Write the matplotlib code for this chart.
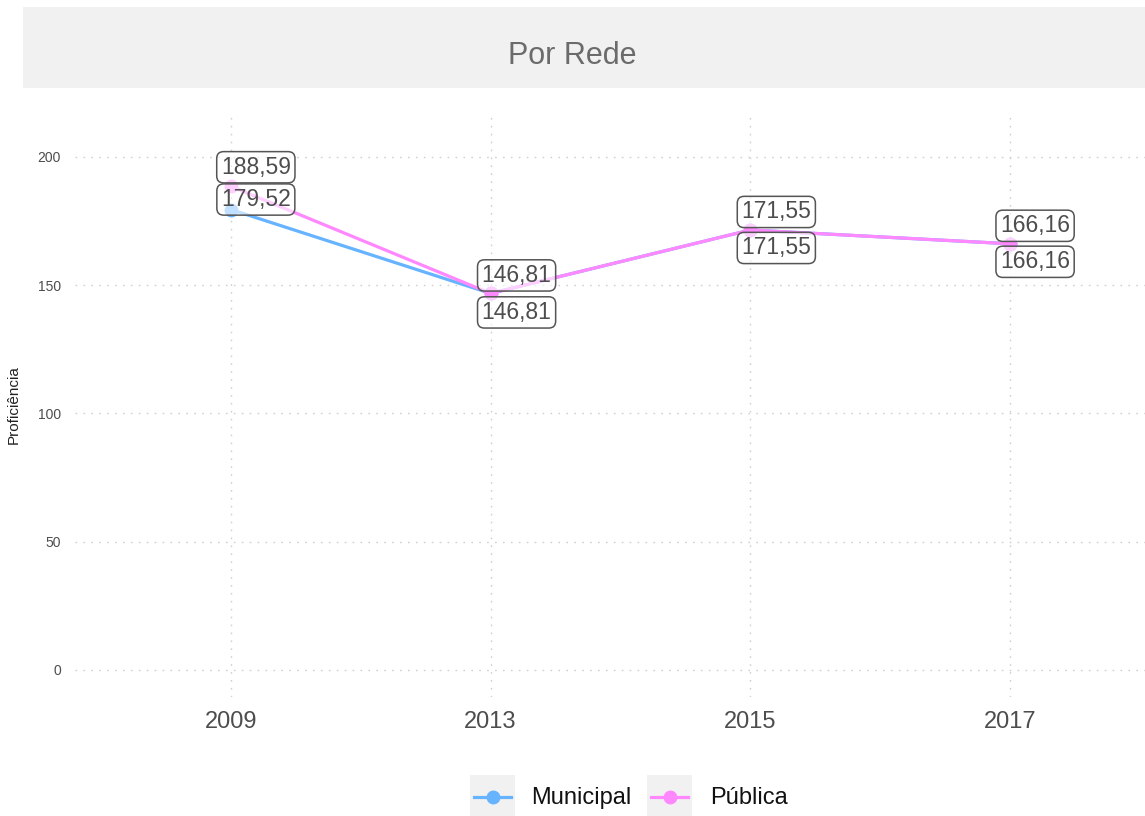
from matplotlib import pyplot as plt
from matplotlib.patches import Rectangle
from matplotlib.lines import Line2D
import numpy as np

# data
years = ["2009", "2013", "2015", "2017"]
municipal = [179.52, 146.81, 171.55, 166.16]
publica = [188.59, 146.81, 171.55, 166.16]
series_names = ["Municipal", "Pública"]

# style
col_mun = "#66b3ff"
col_pub = "#ff88ff"
W, H = 1145, 816
plt.rcParams['font.family'] = ['Liberation Sans', 'DejaVu Sans']


def fx(px):
    return px / W


def fy(py):
    return 1 - py / H


fig = plt.figure(figsize=(W / 100, H / 100), dpi=100)

# facet strip
fig.add_artist(Rectangle((fx(23), fy(88)), fx(W - 23 + 40), 81 / H,
                         transform=fig.transFigure, facecolor="#f1f1f1",
                         edgecolor="none", zorder=0))
fig.text(fx(572), fy(56), "Por Rede", ha="center", va="center", fontsize=22,
         color="#6b6b6b")

ax = fig.add_axes([fx(75), fy(697), fx(W - 75), (697 - 113) / H])
x = np.arange(len(years))

ax.plot(x, municipal, color=col_mun, lw=2.3, marker="o", ms=9, zorder=3)
ax.plot(x, publica, color=col_pub, lw=2.3, marker="o", ms=9, zorder=4)

# label offsets in pixels (dx, dy), ggrepel-like placement
off_pub = [(25, 19), (26, 18), (26, 18), (25, 18)]
off_mun = [(25, 10), (26, -19), (26, -18), (25, -18)]

bbox = dict(boxstyle="round,pad=0.18,rounding_size=0.3", facecolor=(1, 1, 1, 0.6),
            edgecolor="#555555", lw=1.1)
for vals, offs in ((publica, off_pub), (municipal, off_mun)):
    for i, v in enumerate(vals):
        ax.annotate(f"{v:.2f}".replace(".", ","), (x[i], v),
                    xytext=offs[i], textcoords="offset pixels",
                    ha="center", va="center", fontsize=16.5, color="#4d4d4d",
                    bbox=bbox, zorder=6)

ax.set_xlim(-0.6, (W - 231) / 259.7)
ax.set_ylim(-10.53, 217.15)
ax.set_xticks(x)
ax.set_xticklabels(years)
ax.set_yticks([0, 50, 100, 150, 200])
ax.tick_params(axis="x", length=0, pad=10, labelsize=17, labelcolor="#4d4d4d")
ax.tick_params(axis="y", length=0, pad=10, labelsize=10, labelcolor="#4d4d4d")
ax.set_ylabel("Proficiência", fontsize=11, color="#222222", labelpad=12)
ax.grid(True, linestyle=(0, (1.2, 4.5)), color="#d0d0d0", lw=1)
ax.set_axisbelow(True)
for s in ax.spines.values():
    s.set_visible(False)

# legend at bottom, keys with gray background like ggplot
legend_keys = [(470, 531, col_mun), (647, 710, col_pub)]
for (kx, tx, col), name in zip(legend_keys, series_names):
    fig.add_artist(Rectangle((fx(kx), fy(818)), 45 / W, 43 / H,
                             transform=fig.transFigure, facecolor="#f1f1f1",
                             edgecolor="none"))
    fig.add_artist(Line2D([fx(kx + 4), fx(kx + 41)], [fy(797), fy(797)],
                          transform=fig.transFigure, color=col, lw=2.3))
    fig.add_artist(Line2D([fx(kx + 22.5)], [fy(797)], transform=fig.transFigure,
                          color=col, marker="o", ms=9))
    fig.text(fx(tx), fy(798), name, ha="left", va="center", fontsize=17,
             color="#111111")

plt.savefig("out.png", dpi=100)
